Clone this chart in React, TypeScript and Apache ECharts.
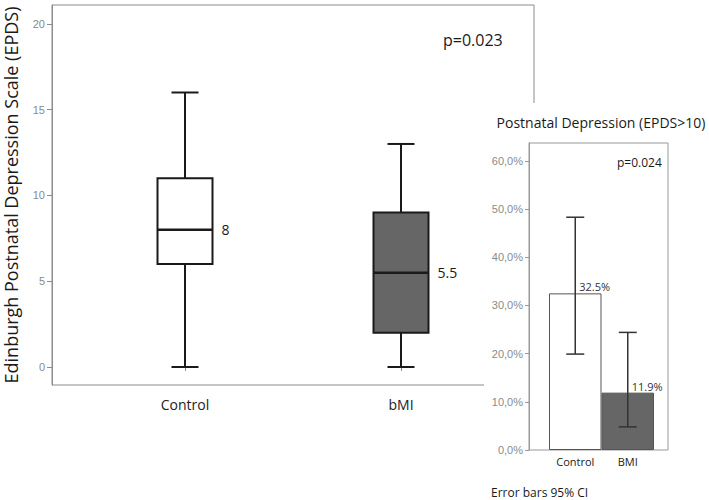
import React, { useEffect, useRef } from "react";
import * as echarts from "echarts";

// Main chart (box plot) data
const categories = ["Control", "bMI"];
const boxMin = [0, 0];
const boxQ1 = [6, 2];
const boxMedian = [8, 5.5];
const boxQ3 = [11, 9];
const boxMax = [16, 13];
const yTicks = [0, 5, 10, 15, 20];

// Inset chart (bar + 95% CI) data
const insetCategories = ["Control", "BMI"];
const insetPercent = [32.5, 11.9];
const ciLow = [19.9, 4.8];
const ciHigh = [48.3, 24.4];
const insetTicks = [0, 10, 20, 30, 40, 50, 60];

const boxFills = ["#ffffff", "#666666"];
const barFills = ["#ffffff", "#666666"];

export default function App() {
  const ref = useRef<HTMLDivElement>(null);

  useEffect(() => {
    if (!ref.current) return;
    const chart = echarts.init(ref.current, null, { renderer: "svg" });
    const mainMin = -1.05;
    const mainMax = 21.1;
    const insetMax = 63.7;
    const frameColor = "#8c8c8c";
    const tickLabelColor = "#8a8a8a";
    const ink = "#1a1a1a";

    const boxData = categories.map((_, i) => [i, boxMin[i], boxQ1[i], boxMedian[i], boxQ3[i], boxMax[i]]);
    const ciData = insetCategories.map((_, i) => [i, ciLow[i], ciHigh[i]]);

    chart.setOption({
      animation: false,
      backgroundColor: "#ffffff",
      grid: [
        { left: 52, top: 5, width: 482, height: 380, outerBoundsMode: "none", containLabel: false, show: true, borderColor: frameColor, borderWidth: 1, backgroundColor: "transparent", z: 0 },
        { left: 77, top: 5, width: 432, height: 380, outerBoundsMode: "none", containLabel: false },
        { left: 529, top: 143, width: 139, height: 307, outerBoundsMode: "none", containLabel: false, show: true, borderColor: "#999999", borderWidth: 1, backgroundColor: "transparent", z: 10 },
        { left: 549, top: 143, width: 105, height: 307, outerBoundsMode: "none", containLabel: false, z: 10 },
      ],
      xAxis: [
        { gridIndex: 0, type: "value", show: false, min: 0, max: 1 },
        {
          gridIndex: 1,
          type: "category",
          data: categories,
          axisLine: { show: false },
          axisTick: { show: true, alignWithLabel: true, length: 4, lineStyle: { color: frameColor } },
          axisLabel: { color: "#222222", fontSize: 14, fontFamily: "Open Sans", margin: 12 },
        },
        { gridIndex: 2, type: "value", show: false, min: 0, max: 1 },
        {
          gridIndex: 3,
          type: "category",
          data: insetCategories,
          z: 10,
          axisLine: { show: false },
          axisTick: { show: false },
          axisLabel: { color: "#222222", fontSize: 11, fontFamily: "Open Sans", margin: 6 },
        },
      ],
      yAxis: [
        {
          gridIndex: 0,
          type: "value",
          min: mainMin,
          max: mainMax,
          name: "Edinburgh Postnatal Depression Scale (EPDS)",
          nameLocation: "middle",
          nameRotate: 90,
          nameGap: 32,
          nameTextStyle: { fontSize: 18, fontFamily: "Open Sans", color: "#1a1a1a" },
          axisLine: { show: true, lineStyle: { color: frameColor } },
          axisTick: { show: true, length: 5, customValues: yTicks, lineStyle: { color: frameColor } },
          axisLabel: { customValues: yTicks, color: tickLabelColor, fontSize: 11, fontFamily: "Liberation Sans", margin: 7 },
          splitLine: { show: false },
        },
        { gridIndex: 1, type: "value", min: mainMin, max: mainMax, show: false, splitLine: { show: false } },
        {
          gridIndex: 2,
          type: "value",
          min: 0,
          max: insetMax,
          z: 10,
          axisLine: { show: true, lineStyle: { color: "#999999" } },
          axisTick: { show: true, length: 4, customValues: insetTicks, lineStyle: { color: "#999999" } },
          axisLabel: {
            customValues: insetTicks,
            color: tickLabelColor,
            fontSize: 11,
            fontFamily: "Liberation Sans",
            margin: 6,
            formatter: (v: number) => v.toFixed(1).replace(".", ",") + "%",
          },
          splitLine: { show: false },
        },
        { gridIndex: 3, type: "value", min: 0, max: insetMax, show: false, splitLine: { show: false } },
      ],
      graphic: [
        {
          type: "rect",
          z: 5,
          shape: { x: 484, y: 103, width: 230, height: 400 },
          style: { fill: "#ffffff" },
        },
        {
          type: "text",
          z: 3,
          x: 443,
          y: 40,
          style: { text: "p=0.023", font: '16px "Open Sans"', fill: "#1a1a1a", verticalAlign: "middle", align: "left" },
        },
        {
          type: "text",
          z: 12,
          x: 601,
          y: 122,
          style: { text: "Postnatal Depression (EPDS>10)", font: '14px "Open Sans"', fill: "#1a1a1a", verticalAlign: "middle", align: "center" },
        },
        {
          type: "text",
          z: 12,
          x: 617,
          y: 162,
          style: { text: "p=0.024", font: '12px "Open Sans"', fill: "#1a1a1a", verticalAlign: "middle", align: "left" },
        },
        {
          type: "text",
          z: 12,
          x: 491,
          y: 492,
          style: { text: "Error bars 95% CI", font: '12px "Open Sans"', fill: "#1a1a1a", verticalAlign: "middle", align: "left" },
        },
      ],
      series: [
        {
          type: "custom",
          xAxisIndex: 1,
          yAxisIndex: 1,
          z: 2,
          data: boxData,
          encode: { x: 0, y: [1, 2, 3, 4, 5] },
          renderItem: (params: any, api: any) => {
            const i = api.value(0);
            const pMin = api.coord([i, api.value(1)]);
            const pQ1 = api.coord([i, api.value(2)]);
            const pMed = api.coord([i, api.value(3)]);
            const pQ3 = api.coord([i, api.value(4)]);
            const pMax = api.coord([i, api.value(5)]);
            const cx = pMed[0];
            const hb = 27.5;
            const hc = 13.5;
            const st = { stroke: ink, lineWidth: 2 };
            return {
              type: "group",
              children: [
                { type: "line", shape: { x1: cx, y1: pMax[1], x2: cx, y2: pQ3[1] }, style: st },
                { type: "line", shape: { x1: cx, y1: pQ1[1], x2: cx, y2: pMin[1] }, style: st },
                { type: "line", shape: { x1: cx - hc, y1: pMax[1], x2: cx + hc, y2: pMax[1] }, style: st },
                { type: "line", shape: { x1: cx - hc, y1: pMin[1], x2: cx + hc, y2: pMin[1] }, style: st },
                {
                  type: "rect",
                  shape: { x: cx - hb, y: pQ3[1], width: hb * 2, height: pQ1[1] - pQ3[1] },
                  style: { fill: boxFills[i], stroke: ink, lineWidth: 2 },
                },
                { type: "line", shape: { x1: cx - hb, y1: pMed[1], x2: cx + hb, y2: pMed[1] }, style: { stroke: ink, lineWidth: 2.5 } },
                {
                  type: "text",
                  x: cx + hb + 9,
                  y: pMed[1],
                  style: { text: String(api.value(3)), font: '14px "Open Sans"', fill: ink, align: "left", verticalAlign: "middle" },
                },
              ],
            };
          },
        },
        {
          type: "bar",
          xAxisIndex: 3,
          yAxisIndex: 3,
          z: 10,
          barCategoryGap: "0%",
          data: insetPercent.map((v, i) => ({ value: v, itemStyle: { color: barFills[i] } })),
          itemStyle: { borderColor: "#555555", borderWidth: 1 },
          label: {
            show: true,
            position: "top",
            distance: 1,
            align: "left",
            offset: [4, 0],
            color: "#333333",
            fontSize: 11,
            fontFamily: "Open Sans",
            formatter: (p: any) => p.value + "%",
          },
        },
        {
          type: "custom",
          xAxisIndex: 3,
          yAxisIndex: 3,
          z: 11,
          data: ciData,
          encode: { x: 0, y: [1, 2] },
          renderItem: (params: any, api: any) => {
            const i = api.value(0);
            const lo = api.coord([i, api.value(1)]);
            const hi = api.coord([i, api.value(2)]);
            const cx = lo[0];
            const hc = 9;
            const st = { stroke: "#333333", lineWidth: 1.5 };
            return {
              type: "group",
              children: [
                { type: "line", shape: { x1: cx, y1: lo[1], x2: cx, y2: hi[1] }, style: st },
                { type: "line", shape: { x1: cx - hc, y1: lo[1], x2: cx + hc, y2: lo[1] }, style: st },
                { type: "line", shape: { x1: cx - hc, y1: hi[1], x2: cx + hc, y2: hi[1] }, style: st },
              ],
            };
          },
        },
      ],
    });
    return () => chart.dispose();
  }, []);

  return (
    <div
      ref={ref}
      style={{ position: "fixed", left: 0, top: 0, width: 709, height: 500, background: "#ffffff" }}
    />
  );
}
